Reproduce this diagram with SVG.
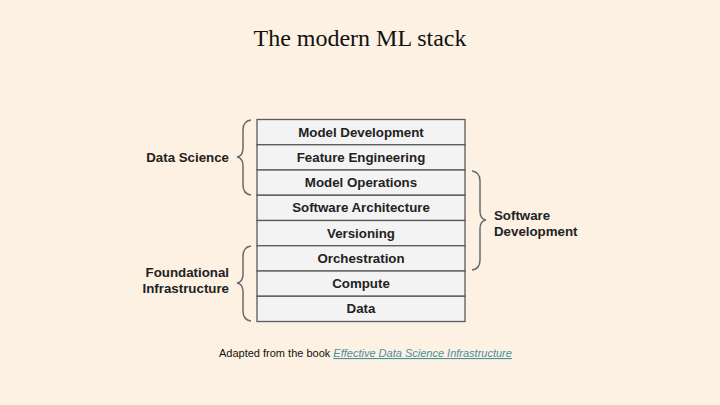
<svg xmlns="http://www.w3.org/2000/svg" width="720" height="405" viewBox="0 0 720 405">
<style>
.cell rect{fill:#f3f3f3;stroke:#5a5a5a;stroke-width:1.3}
.cell text{font-family:"Liberation Sans",Arial,sans-serif;font-weight:bold;font-size:13.3px;fill:#222;text-anchor:middle}
.lbl{font-family:"Liberation Sans",Arial,sans-serif;font-weight:bold;font-size:13.3px;fill:#222}
.brace{fill:none;stroke:#6b6b6b;stroke-width:1.5}
</style>
<rect width="720" height="405" fill="#fcf1e2"/>
<text x="360" y="46" text-anchor="middle" font-family="'Liberation Serif','Times New Roman',serif" font-size="24" fill="#111">The modern ML stack</text>
<g id="stack">
<g id="model-development" class="cell"><rect x="257" y="119.5" width="208" height="25.25"/><text x="361" y="136.7">Model Development</text></g>
<g id="feature-engineering" class="cell"><rect x="257" y="144.75" width="208" height="25.25"/><text x="361" y="161.9">Feature Engineering</text></g>
<g id="model-operations" class="cell"><rect x="257" y="170" width="208" height="25.25"/><text x="361" y="187.2">Model Operations</text></g>
<g id="software-architecture" class="cell"><rect x="257" y="195.25" width="208" height="25.25"/><text x="361" y="212.4">Software Architecture</text></g>
<g id="versioning" class="cell"><rect x="257" y="220.5" width="208" height="25.25"/><text x="361" y="237.7">Versioning</text></g>
<g id="orchestration" class="cell"><rect x="257" y="245.75" width="208" height="25.25"/><text x="361" y="262.9">Orchestration</text></g>
<g id="compute" class="cell"><rect x="257" y="271" width="208" height="25.25"/><text x="361" y="288.2">Compute</text></g>
<g id="data" class="cell"><rect x="257" y="296.25" width="208" height="25.25"/><text x="361" y="313.4">Data</text></g>
</g>
<g id="connectors">
<path class="brace" d="M251,120 Q243,121 243,130 L243,148 Q243,156 237,157 Q243,158 243,166 L243,185 Q243,194 251,195"/>
<path class="brace" d="M251,246 Q243,247 243,256 L243,274 Q243,282 237,283 Q243,284 243,292 L243,311 Q243,320 251,321"/>
<path class="brace" d="M472,171 Q480,172 480,181 L480,211 Q480,219 486,220 Q480,221 480,229 L480,260 Q480,269 472,270"/>
</g>
<g id="data-science"><text class="lbl" x="229" y="161.5" text-anchor="end">Data Science</text></g>
<g id="foundational-infrastructure"><text class="lbl" x="229" y="276.5" text-anchor="end">Foundational</text><text class="lbl" x="229" y="292.5" text-anchor="end">Infrastructure</text></g>
<g id="software-development"><text class="lbl" x="494" y="219.5">Software</text><text class="lbl" x="494" y="235.5">Development</text></g>
<text x="219" y="357" font-family="'Liberation Sans',Arial,sans-serif" font-size="11" fill="#111">Adapted from the book <tspan font-style="italic" fill="#4a8f9e" text-decoration="underline">Effective Data Science Infrastructure</tspan></text>
</svg>
